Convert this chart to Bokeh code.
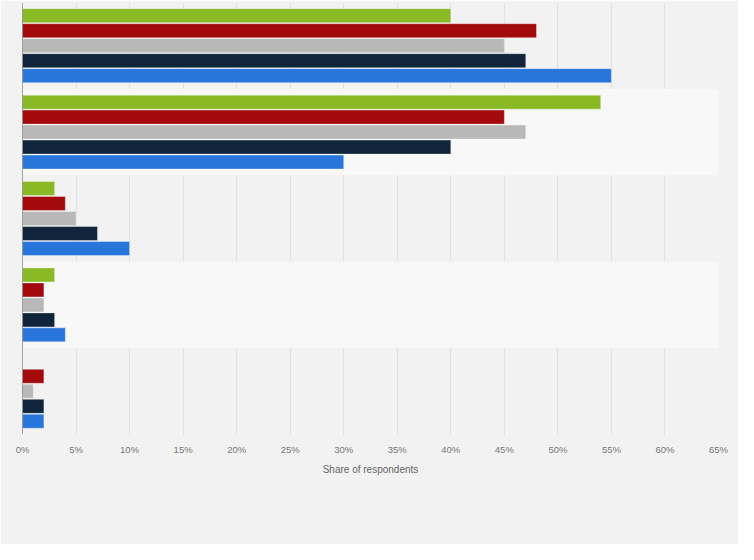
from bokeh.plotting import figure
from bokeh.models import FactorRange, Range1d, FixedTicker, ColumnDataSource, Span
from bokeh.transform import dodge
from bokeh.embed import file_html
from bokeh.resources import INLINE

# ---- data ----
categories = ["Group 1", "Group 2", "Group 3", "Group 4", "Group 5"]
series_names = ["Series 1", "Series 2", "Series 3", "Series 4", "Series 5"]
series_green = [40, 54, 3, 3, 0]
series_red = [48, 45, 4, 2, 2]
series_gray = [45, 47, 5, 2, 1]
series_navy = [47, 40, 7, 3, 2]
series_blue = [55, 30, 10, 4, 2]
tick_values = [0, 5, 10, 15, 20, 25, 30, 35, 40, 45, 50, 55, 60, 65]
tick_labels = ["0%", "5%", "10%", "15%", "20%", "25%", "30%", "35%", "40%",
               "45%", "50%", "55%", "60%", "65%"]
x_title = "Share of respondents"

colors = ["#89b925", "#a20a0b", "#b8b8b8", "#10253c", "#2876dc"]
all_series = [series_green, series_red, series_gray, series_navy, series_blue]

BG = "#f2f2f2"
BAND = "#f8f8f8"

p = figure(
    width=738, height=544,
    y_range=FactorRange(*reversed(categories)),
    x_range=Range1d(0, 65),
    output_backend="svg", toolbar_location=None,
    min_border_left=22, min_border_right=20,
    min_border_top=2, min_border_bottom=110,
)
p.background_fill_color = BG
p.border_fill_color = BG
p.outline_line_color = None

# alternating light bands
band_cats = categories[1::2]
p.hbar(y=band_cats, left=0, right=65, height=1.0,
       fill_color=BAND, line_color=None)

pitch = 0.1734
bar_h = 0.162
offsets = [2, 1, 0, -1, -2]
for name, vals, col, off in zip(series_names, all_series, colors, offsets):
    src = ColumnDataSource(dict(cat=categories, val=vals))
    p.hbar(y=dodge("cat", off * pitch, range=p.y_range), right="val", left=0,
           height=bar_h, source=src, fill_color=col,
           line_color="white", line_alpha=0.35, line_width=1)

# grid
p.ygrid.grid_line_color = None
p.xgrid.grid_line_color = "#d2d2d2"
p.xgrid.grid_line_dash = "1 1"
p.xgrid.grid_line_width = 1

# x axis
xa = p.xaxis[0]
xa.ticker = FixedTicker(ticks=tick_values)
xa.major_label_overrides = {v: l for v, l in zip(tick_values, tick_labels)}
xa.axis_line_color = None
xa.major_tick_line_color = None
xa.minor_tick_line_color = None
xa.major_tick_out = 0
xa.major_tick_in = 0
xa.major_label_standoff = 9
xa.major_label_text_font = "Liberation Sans"
xa.major_label_text_font_size = "9.5px"
xa.major_label_text_color = "#777777"
xa.axis_label = x_title
xa.axis_label_text_font = "Liberation Sans"
xa.axis_label_text_font_size = "10px"
xa.axis_label_text_font_style = "normal"
xa.axis_label_text_color = "#666666"
xa.axis_label_standoff = 6

# y axis: only its line is shown in the reference (no category labels)
p.yaxis.visible = False
p.add_layout(Span(location=0, dimension="height", line_color="#555555",
                  line_width=1))

open("out.html", "w").write(file_html(p, INLINE))
